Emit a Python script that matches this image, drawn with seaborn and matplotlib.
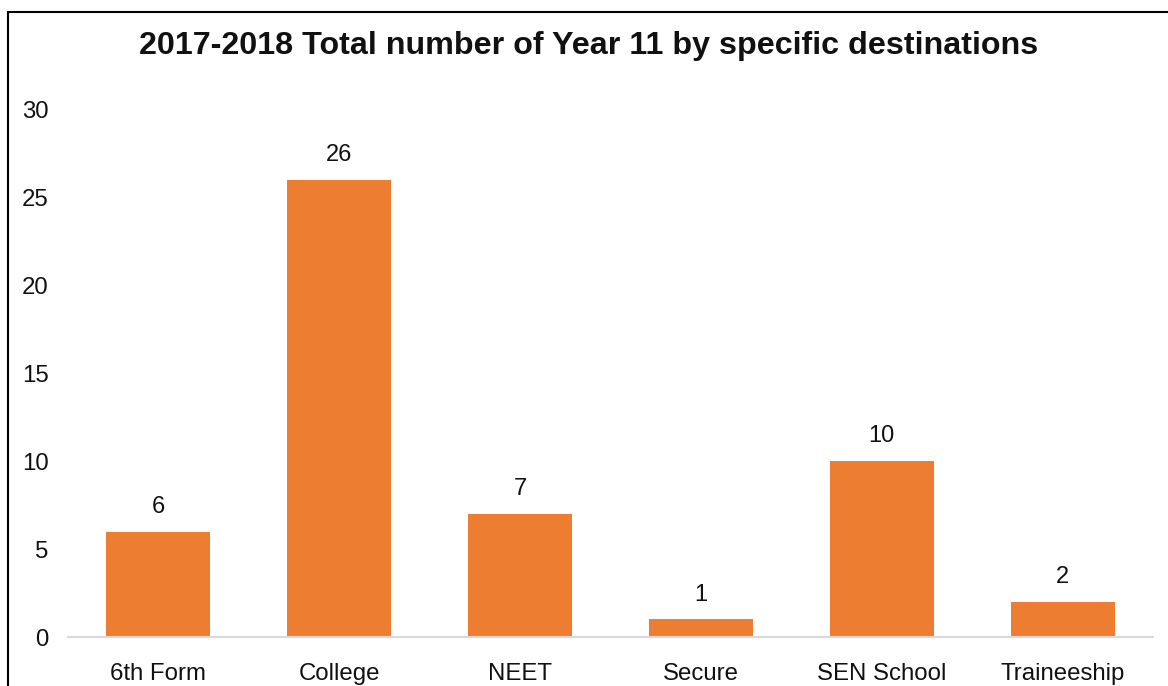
import matplotlib
matplotlib.use("Agg")
import matplotlib.pyplot as plt
import seaborn as sns
import pandas as pd
from matplotlib.lines import Line2D

destinations = ["6th Form", "College", "NEET", "Secure", "SEN School", "Traineeship"]
counts = [6, 26, 7, 1, 10, 2]
y_ticks = [0, 5, 10, 15, 20, 25, 30]
title = "2017-2018 Total number of Year 11 by specific destinations"

sns.set_theme(style="white")
plt.rcParams["font.family"] = ["Liberation Sans", "DejaVu Sans"]

df = pd.DataFrame({"destination": destinations, "count": counts})

fig = plt.figure(figsize=(11.68, 6.86), dpi=100)
ax = fig.add_axes([68 / 1168, 1 - 637 / 686, (1153 - 68) / 1168, (637 - 110) / 686])

sns.barplot(data=df, x="destination", y="count", color="#ED7D31",
            saturation=1, width=0.575, ax=ax)

for patch in ax.patches:
    patch.set_edgecolor("none")

for i, v in enumerate(counts):
    ax.annotate(str(v), (i, v), xytext=(0, 10), textcoords="offset points",
                ha="center", va="bottom", fontsize=17, color="#111111")

ax.set_xlim(-0.5, len(destinations) - 0.5)
ax.set_ylim(0, 30)
ax.set_yticks(y_ticks)
ax.set_yticklabels([str(t) for t in y_ticks])
ax.set_xlabel("")
ax.set_ylabel("")
ax.tick_params(axis="both", length=0, labelsize=17.3, labelcolor="#111111")
ax.tick_params(axis="y", pad=14)
ax.tick_params(axis="x", pad=19)

for side in ["top", "right", "left"]:
    ax.spines[side].set_visible(False)
ax.spines["bottom"].set_color("#D9D9D9")
ax.spines["bottom"].set_linewidth(1.5)

fig.text(589 / 1168, 1 - 46 / 686, title, ha="center", va="center",
         fontsize=23.2, fontweight="bold", color="#111111")

# Outer frame: left and top edges
fig.add_artist(Line2D([8 / 1168, 8 / 1168], [0, 1 - 12 / 686],
                      transform=fig.transFigure, color="black", lw=1.5))
fig.add_artist(Line2D([8 / 1168, 1], [1 - 12 / 686, 1 - 12 / 686],
                      transform=fig.transFigure, color="black", lw=1.5))

fig.savefig("out.png", dpi=100)
